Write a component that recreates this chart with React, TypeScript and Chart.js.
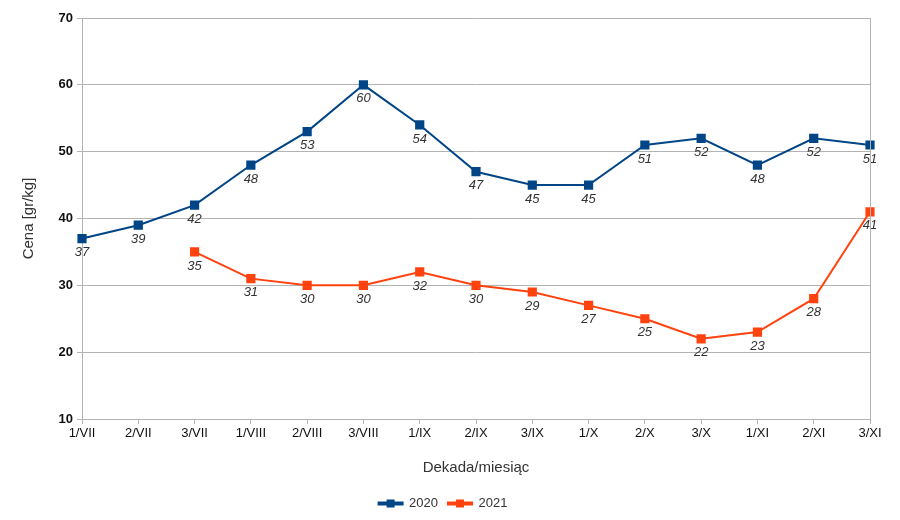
import React, { useEffect, useRef } from "react";
import { Chart, registerables } from "chart.js";

Chart.register(...registerables);

const categories = ["1/VII", "2/VII", "3/VII", "1/VIII", "2/VIII", "3/VIII", "1/IX", "2/IX", "3/IX", "1/X", "2/X", "3/X", "1/XI", "2/XI", "3/XI"];
const series2020 = [37, 39, 42, 48, 53, 60, 54, 47, 45, 45, 51, 52, 48, 52, 51];
const series2021 = [null, null, 35, 31, 30, 30, 32, 30, 29, 27, 25, 22, 23, 28, 41];
const yTicks = [10, 20, 30, 40, 50, 60, 70];

const FONT = "'Liberation Sans', Arial, sans-serif";
const GRID = "#b3b3b3";

const labelsPlugin = {
  id: "pointLabels",
  afterDatasetsDraw(chart: any) {
    const ctx = chart.ctx;
    ctx.save();
    ctx.font = `italic 13px ${FONT}`;
    ctx.fillStyle = "#333333";
    ctx.textAlign = "center";
    ctx.textBaseline = "middle";
    chart.data.datasets.forEach((ds: any, i: number) => {
      const meta = chart.getDatasetMeta(i);
      meta.data.forEach((pt: any, j: number) => {
        const v = ds.data[j];
        if (v === null || v === undefined) return;
        ctx.fillText(String(v), pt.x, pt.y + 14);
      });
    });
    ctx.restore();
  },
};

const framePlugin = {
  id: "frame",
  afterDraw(chart: any) {
    const { ctx, chartArea } = chart;
    ctx.save();
    ctx.strokeStyle = GRID;
    ctx.lineWidth = 1;
    ctx.beginPath();
    ctx.moveTo(Math.round(chartArea.right) + 0.5, chartArea.top);
    ctx.lineTo(Math.round(chartArea.right) + 0.5, chartArea.bottom);
    ctx.stroke();
    const legend = chart.legend;
    if (legend && legend.legendHitBoxes) {
      legend.legendHitBoxes.forEach((hb: any, i: number) => {
        const ds = chart.data.datasets[i];
        const cx = hb.left + 12;
        const cy = hb.top + hb.height / 2;
        ctx.fillStyle = ds.borderColor;
        ctx.fillRect(cx - 4, cy - 4, 8, 8);
      });
    }
    ctx.restore();
  },
};

export default function App() {
  const ref = useRef<HTMLCanvasElement | null>(null);
  useEffect(() => {
    if (!ref.current) return;
    const chart = new Chart(ref.current, {
      type: "line",
      data: {
        labels: categories,
        datasets: [
          {
            label: "2020",
            data: series2020,
            borderColor: "#004586",
            backgroundColor: "#004586",
            borderWidth: 2,
            pointStyle: "rect",
            pointRadius: 6.5,
            pointBorderWidth: 0,
            tension: 0,
          },
          {
            label: "2021",
            data: series2021 as any,
            borderColor: "#ff420e",
            backgroundColor: "#ff420e",
            borderWidth: 2,
            pointStyle: "rect",
            pointRadius: 6.5,
            pointBorderWidth: 0,
            tension: 0,
          },
        ],
      },
      options: {
        animation: false,
        responsive: false,
        layout: { padding: { top: 18, right: 30, left: 16, bottom: 0 } },
        plugins: {
          tooltip: { enabled: false },
          legend: {
            position: "bottom",
            labels: {
              boxWidth: 24,
              boxHeight: 2,
              padding: 10,
              color: "#333333",
              font: { family: FONT, size: 13 },
            },
          },
        },
        scales: {
          x: {
            offset: false,
            grid: { drawOnChartArea: false, color: GRID, tickLength: 5 },
            border: { color: GRID },
            ticks: { color: "#111111", font: { family: FONT, size: 13 }, maxRotation: 0, padding: 2 },
            title: { display: true, text: "Dekada/miesiąc", color: "#333333", font: { family: FONT, size: 15 }, padding: { top: 18, bottom: 10 } },
            afterFit(scale: any) { scale.height = 68; },
          },
          y: {
            min: 10,
            max: 70,
            afterBuildTicks(scale: any) { scale.ticks = yTicks.map((v) => ({ value: v })); },
            grid: { color: GRID, tickLength: 5 },
            border: { color: GRID },
            ticks: { color: "#111111", font: { family: FONT, size: 13, weight: "bold" }, padding: 4 },
            title: { display: true, text: "Cena [gr/kg]", color: "#333333", font: { family: FONT, size: 15 } },
            afterFit(scale: any) { scale.width = 66; },
          },
        },
      },
      plugins: [labelsPlugin, framePlugin],
    });
    return () => chart.destroy();
  }, []);
  return (
    <div style={{ position: "fixed", left: 0, top: 0, width: 900, height: 520, background: "#fff" }}>
      <canvas ref={ref} width={900} height={520} />
    </div>
  );
}
